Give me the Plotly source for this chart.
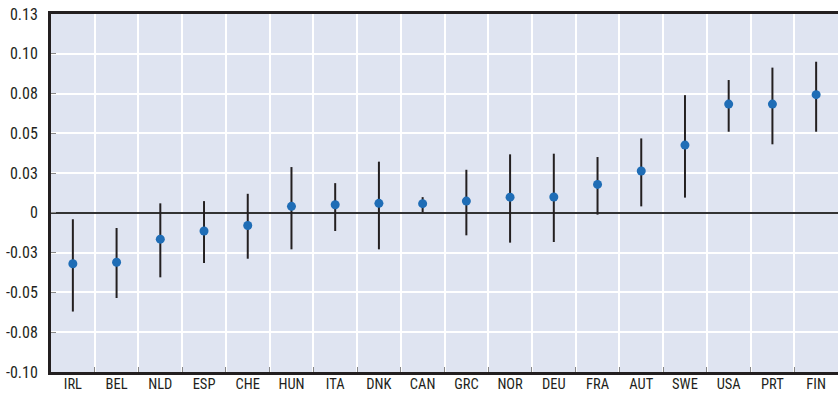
import plotly.graph_objects as go

countries = ["IRL", "BEL", "NLD", "ESP", "CHE", "HUN", "ITA", "DNK", "CAN",
             "GRC", "NOR", "DEU", "FRA", "AUT", "SWE", "USA", "PRT", "FIN"]
estimate = [-0.0320, -0.0310, -0.0165, -0.0114, -0.0079, 0.0041, 0.0051, 0.0060, 0.0058,
            0.0074, 0.0099, 0.0100, 0.0179, 0.0263, 0.0426, 0.0684, 0.0684, 0.0743]
upper = [-0.0040, -0.0095, 0.0060, 0.0074, 0.0120, 0.0288, 0.0187, 0.0322, 0.0099,
         0.0271, 0.0368, 0.0372, 0.0351, 0.0468, 0.0740, 0.0835, 0.0913, 0.0950]
lower = [-0.0620, -0.0535, -0.0405, -0.0315, -0.0288, -0.0229, -0.0114, -0.0229, 0.0005,
         -0.0141, -0.0187, -0.0183, -0.0011, 0.0041, 0.0096, 0.0510, 0.0431, 0.0510]

y_tickvals = [-0.1, -0.075, -0.05, -0.025, 0, 0.025, 0.05, 0.075, 0.1, 0.125]
y_ticktext = ["-0.10", "-0.08", "-0.05", "-0.03", "0", "0.03", "0.05", "0.08", "0.10", "0.13"]

err_plus = [u - e for u, e in zip(upper, estimate)]
err_minus = [e - l for e, l in zip(estimate, lower)]

font_family = "Liberation Sans Narrow, Arial Narrow, Roboto Condensed, Liberation Sans, sans-serif"
ink = "#231f20"

fig = go.Figure()
fig.add_trace(go.Scatter(
    x=countries, y=estimate, mode="markers",
    marker=dict(color="#1f6db6", size=9),
    error_y=dict(type="data", symmetric=False, array=err_plus, arrayminus=err_minus,
                 color=ink, thickness=2, width=0),
    showlegend=False, hoverinfo="skip",
))

fig.update_layout(
    width=838, height=395,
    margin=dict(l=51, r=0, t=14, b=23, autoexpand=False),
    paper_bgcolor="white",
    plot_bgcolor="#dfe4f1",
    font=dict(family=font_family, size=16, color=ink),
    xaxis=dict(
        type="category",
        tickson="boundaries",
        showgrid=True, gridcolor="white", gridwidth=2,
        ticks="inside", ticklen=5, tickcolor="#888888", tickwidth=1,
        showline=True, linecolor=ink, linewidth=3, mirror=True,
        range=[-0.5, 17.5],
        tickfont=dict(size=14.5),
        ticklabelstandoff=-3,
        automargin=False,
    ),
    yaxis=dict(
        range=[-0.1, 0.125],
        tickvals=y_tickvals, ticktext=y_ticktext,
        showgrid=True, gridcolor="white", gridwidth=2,
        ticks="inside", ticklen=5, tickcolor="#888888", tickwidth=1,
        showline=True, linecolor=ink, linewidth=3,
        zeroline=True, zerolinecolor="#333333", zerolinewidth=1.5,
        ticklabelstandoff=7,
        tickfont=dict(size=16),
        automargin=False,
    ),
)

fig.write_html("out.html", config={"displayModeBar": False})

# remove default page margins so the figure sits at the window's top-left corner
with open("out.html", "r", encoding="utf-8") as f:
    html = f.read()
html = html.replace("<head>", "<head><style>html,body{margin:0;padding:0;overflow:hidden;}</style>", 1)
with open("out.html", "w", encoding="utf-8") as f:
    f.write(html)
